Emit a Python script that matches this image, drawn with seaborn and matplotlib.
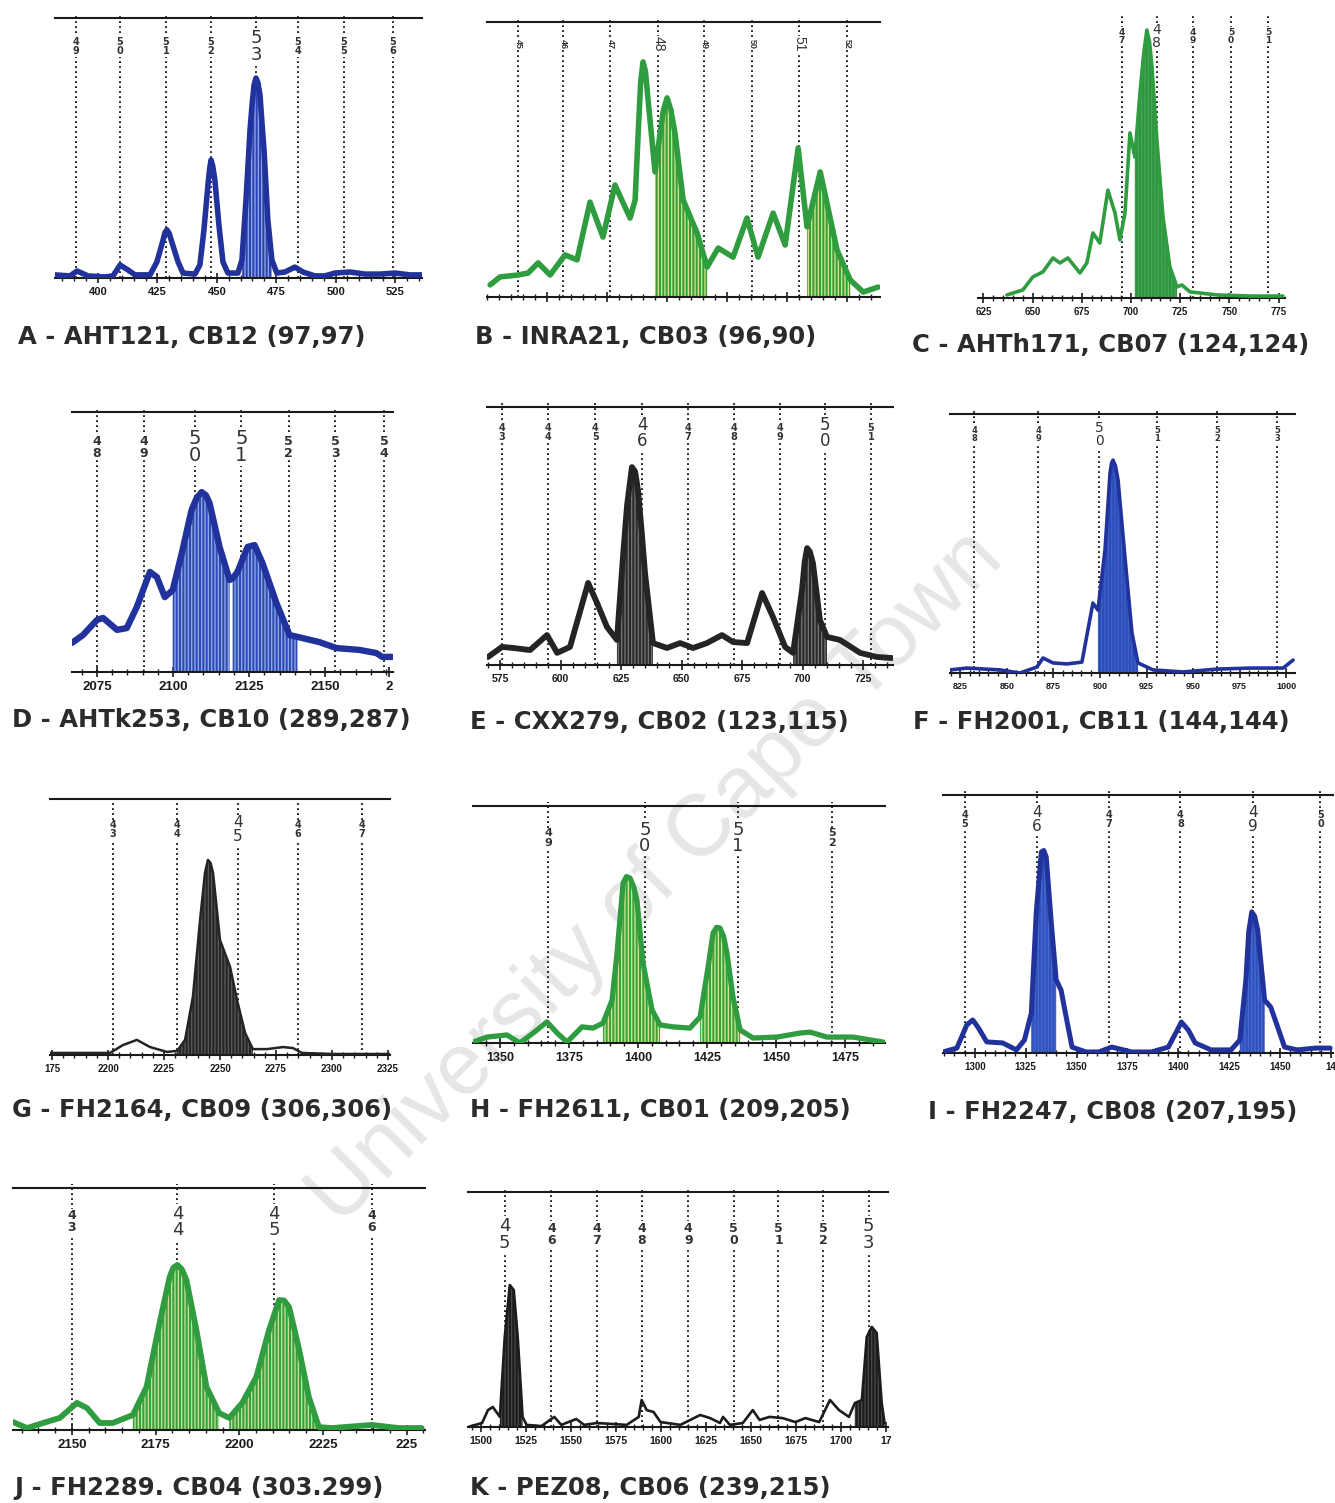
import numpy as np
import pandas as pd
import matplotlib
matplotlib.use("Agg")
import matplotlib.pyplot as plt
from matplotlib.ticker import MultipleLocator
import seaborn as sns

sns.set_style("white")
plt.rcParams['font.family'] = ['Liberation Sans', 'DejaVu Sans']
plt.rcParams['hatch.linewidth'] = 0.9

# ---------------- trace data (x in scan units, y in % of panel height) -------------
a_x = [381.9, 388.2, 391.2, 395.8, 402.9, 406.3, 409.3, 412.6, 415.6, 421.9, 424.8, 427.4, 428.2, 429.0,
       429.9, 431.1, 433.7, 435.8, 440.8, 442.9, 444.6, 446.3, 447.0, 447.6, 448.3, 449.2, 450.9, 452.6,
       454.7, 458.9, 460.6, 462.3, 463.2, 464.0, 464.9, 465.7, 466.5, 467.3, 468.2, 469.0, 469.9, 471.5,
       473.2, 475.3, 478.7, 482.9, 486.3, 491.3, 495.5, 499.7, 506.1, 512.4, 518.7, 525.0, 531.3, 536.4]
a_y = [1.2, 0.8, 2.7, 0.8, 0.4, 0.8, 5.0, 3.1, 1.2, 1.2, 6.2, 14.6, 17.5, 18.5, 17.3, 13.8, 6.2, 1.9,
       1.5, 5.0, 18.5, 35.8, 42.0, 45.4, 43.0, 37.7, 20.4, 6.2, 1.9, 1.9, 6.9, 30.0, 44.0, 56.9, 67.0,
       74.2, 76.9, 75.2, 70.4, 60.0, 49.2, 22.3, 6.9, 1.9, 2.3, 4.2, 2.3, 0.8, 0.8, 1.9, 2.3, 1.5, 1.5,
       1.9, 1.2, 1.2]
a_bins = [390.7, 409.3, 428.6, 447.6, 466.5, 484.2, 503.5, 524.2]
a_bin_labels = ['49', '50', '51', '52', '53', '54', '55', '56']
a_called = ['53']
a_fills = [(460, 474)]
a_ticks = [400, 425, 450, 475, 500, 525]
a_ticklabels = ['400', '425', '450', '475', '500', '525']
a_caption = 'A - AHT121, CB12 (97,97)'

b_x = [301.3, 305.4, 312.9, 317.1, 321.3, 326.3, 332.5, 337.5, 342.9, 348.3, 353.3, 359.6, 361.7, 363.0,
       364.0, 365.0, 366.0, 367.1, 370.0, 372.1, 373.5, 375.0, 376.6, 378.3, 381.7, 387.5, 391.7, 396.3,
       402.5, 408.3, 412.9, 419.2, 424.2, 429.6, 433.3, 438.8, 445.8, 451.3, 456.7, 462.9]
b_y = [4.4, 7.3, 8.0, 8.7, 12.4, 8.0, 15.3, 13.5, 34.5, 21.8, 40.7, 28.7, 35.3, 60.0, 78.0, 85.5, 82.0,
       71.6, 45.5, 59.6, 68.0, 72.4, 68.0, 59.6, 35.3, 23.3, 10.9, 17.8, 14.5, 28.7, 14.5, 30.5, 18.9,
       54.2, 25.5, 45.5, 17.1, 6.2, 1.8, 3.6]
b_bins = [312.9, 331.7, 351.3, 371.3, 390.4, 410.4, 430.0, 450.0]
b_bin_labels = ['45', '46', '47', '48', '49', '50', '51', '52']
b_called = ['48', '51']
b_fills = [(369.5, 392), (433, 451.5)]
b_ticks = [325, 350, 375, 400, 425, 450]
b_ticklabels = ['', '', '', '', '', '']
b_caption = 'B - INRA21, CB03 (96,90)'

c_x = [637.0, 645.1, 650.2, 655.3, 660.4, 663.9, 668.0, 674.1, 677.6, 680.7, 684.2, 688.3, 691.9, 694.4,
       697.0, 699.5, 702.0, 704.6, 706.5, 708.1, 709.5, 710.7, 713.2, 716.3, 719.8, 723.4, 725.9, 730.0,
       735.1, 743.7, 760.5, 777.2]
c_y = [1.1, 2.9, 7.6, 9.4, 14.4, 12.6, 14.4, 9.0, 12.6, 23.4, 19.8, 38.8, 30.6, 20.9, 30.6, 59.4, 50.7,
       73.7, 88.0, 96.4, 92.0, 83.1, 56.8, 29.1, 11.2, 4.0, 4.7, 2.2, 1.8, 1.1, 0.7, 0.7]
c_bins = [695.4, 713.2, 731.5, 750.8, 769.6]
c_bin_labels = ['47', '48', '49', '50', '51']
c_called = ['48']
c_fills = [(701.5, 724)]
c_ticks = [625, 650, 675, 700, 725, 750, 775]
c_ticklabels = ['625', '650', '675', '700', '725', '750', '775']
c_caption = 'C - AHTh171, CB07 (124,124)'

d_x = [2066.8, 2070.4, 2075.0, 2077.0, 2081.6, 2084.8, 2088.1, 2092.4, 2094.7, 2097.3, 2099.9, 2102.9,
       2106.1, 2107.8, 2109.4, 2110.8, 2112.0, 2115.3, 2118.6, 2119.6, 2121.2, 2124.5, 2126.8, 2129.4,
       2134.0, 2138.3, 2140.9, 2148.1, 2153.7, 2161.2, 2166.8, 2168.8, 2172.0]
d_y = [11.2, 14.2, 20.0, 20.8, 16.2, 16.9, 25.0, 38.5, 36.5, 28.8, 31.5, 45.8, 62.3, 67.0, 69.2, 68.0,
       65.0, 48.1, 35.4, 36.0, 38.5, 48.1, 48.8, 41.9, 26.5, 14.2, 13.5, 11.5, 9.2, 8.5, 7.3, 5.8, 5.8]
d_bins = [2075.0, 2090.4, 2107.1, 2122.5, 2138.0, 2153.4, 2169.4]
d_bin_labels = ['48', '49', '50', '51', '52', '53', '54']
d_called = ['50', '51']
d_fills = [(2099, 2118.8), (2119.4, 2141.5)]
d_ticks = [2075, 2100, 2125, 2150, 2171]
d_ticklabels = ['2075', '2100', '2125', '2150', '2']
d_caption = 'D - AHTk253, CB10 (289,287)'

e_x = [570.0, 575.8, 580.4, 587.4, 594.4, 598.6, 603.9, 611.4, 615.1, 619.2, 623.3, 625.8, 627.5, 629.5,
       630.8, 632.0, 633.5, 634.9, 638.2, 644.0, 649.4, 654.8, 660.5, 666.7, 671.3, 677.1, 683.3, 687.8,
       692.8, 696.1, 699.8, 700.9, 701.9, 703.0, 704.3, 707.2, 710.1, 715.5, 723.8, 730.8, 737.0]
e_y = [3.1, 7.0, 6.6, 5.8, 11.6, 4.7, 7.0, 31.8, 24.0, 14.7, 9.7, 41.9, 62.0, 76.7, 75.0, 67.8, 52.0,
       35.7, 8.5, 6.6, 8.5, 6.6, 8.5, 11.6, 8.9, 8.5, 27.9, 18.6, 7.0, 4.7, 29.1, 40.0, 45.3, 44.0, 39.5,
       17.4, 10.9, 9.7, 4.7, 3.1, 2.7]
e_bins = [575.8, 594.8, 614.3, 633.7, 652.7, 671.7, 690.7, 709.3, 728.3]
e_bin_labels = ['43', '44', '45', '46', '47', '48', '49', '50', '51']
e_called = ['46', '50']
e_fills = [(622, 638.5), (694.5, 710.5)]
e_ticks = [575, 600, 625, 650, 675, 700, 725]
e_ticklabels = ['575', '600', '625', '650', '675', '700', '725']
e_caption = 'E - CXX279, CB02 (123,115)'

f_x = [819.4, 828.5, 846.2, 857.0, 866.1, 869.4, 874.7, 882.3, 890.3, 893.5, 896.2, 898.9, 902.7, 905.4,
       906.2, 907.0, 908.3, 909.7, 913.4, 917.2, 920.4, 928.5, 944.6, 962.9, 980.6, 998.4, 1003.8]
f_y = [1.2, 1.9, 1.2, 0.0, 2.3, 5.8, 3.9, 3.5, 4.2, 16.6, 27.0, 24.3, 47.5, 77.2, 81.0, 82.2, 80.0, 74.5,
       44.8, 15.4, 3.9, 1.2, 0.4, 1.5, 1.9, 1.9, 5.0]
f_bins = [832.3, 866.7, 899.5, 930.6, 962.9, 995.2]
f_bin_labels = ['48', '49', '50', '51', '52', '53']
f_called = ['50']
f_fills = [(898.5, 921)]
f_ticks = [825, 850, 875, 900, 925, 950, 975, 1000]
f_ticklabels = ['825', '850', '875', '900', '925', '950', '975', '1000']
f_caption = 'F - FH2001, CB11 (144,144)'

g_x = [2174.1, 2200.9, 2206.7, 2212.9, 2218.8, 2226.3, 2230.8, 2234.4, 2237.9, 2241.1, 2243.3, 2244.6,
       2245.8, 2246.9, 2250.0, 2254.5, 2257.6, 2261.2, 2264.7, 2271.0, 2278.1, 2282.6, 2286.6, 2300.4,
       2325.9]
g_y = [0.8, 0.8, 3.9, 5.9, 3.1, 1.2, 1.6, 5.9, 22.7, 52.7, 71.1, 76.2, 75.0, 71.1, 44.9, 34.4, 21.5, 8.6,
       2.3, 2.3, 3.1, 2.7, 0.8, 0.4, 0.4]
g_bins = [2202.2, 2230.8, 2258.0, 2284.8, 2313.4]
g_bin_labels = ['43', '44', '45', '46', '47']
g_called = ['45']
g_fills = [(2230, 2265)]
g_ticks = [2175, 2200, 2225, 2250, 2275, 2300, 2325]
g_ticklabels = ['175', '2200', '2225', '2250', '2275', '2300', '2325']
g_caption = 'G - FH2164, CB09 (306,306)'

h_x = [1340.2, 1345.3, 1352.5, 1357.2, 1362.0, 1367.0, 1370.7, 1374.3, 1379.7, 1383.7, 1387.3, 1390.6,
       1392.4, 1394.6, 1395.8, 1397.1, 1398.4, 1399.6, 1401.8, 1405.1, 1408.0, 1412.7, 1418.8, 1422.5,
       1425.4, 1427.2, 1428.5, 1429.7, 1431.0, 1432.2, 1434.4, 1437.0, 1441.7, 1450.4, 1458.7, 1462.3,
       1468.5, 1477.9, 1488.8]
h_y = [0.4, 2.5, 3.4, 0.0, 4.2, 8.9, 4.2, 0.4, 6.8, 6.3, 8.4, 18.1, 38.0, 67.5, 70.2, 69.6, 66.0, 60.3,
       33.8, 13.9, 7.6, 6.8, 6.3, 11.0, 32.1, 46.4, 48.8, 48.5, 45.0, 38.0, 19.4, 5.5, 2.1, 2.5, 4.2, 4.6,
       2.5, 2.5, 0.4]
h_bins = [1367.4, 1402.5, 1436.2, 1470.3]
h_bin_labels = ['49', '50', '51', '52']
h_called = ['50', '51']
h_fills = [(1385, 1408.5), (1421, 1437.5)]
h_ticks = [1350, 1375, 1400, 1425, 1450, 1475]
h_ticklabels = ['1350', '1375', '1400', '1425', '1450', '1475']
h_caption = 'H - FH2611, CB01 (209,205)'

i_x = [1284.4, 1291.2, 1296.1, 1299.0, 1301.5, 1305.9, 1313.7, 1320.5, 1324.4, 1327.8, 1330.2, 1332.7,
       1333.9, 1335.1, 1337.6, 1340.0, 1342.4, 1344.9, 1347.8, 1354.6, 1361.0, 1367.3, 1377.1, 1386.8,
       1395.1, 1399.0, 1401.5, 1404.9, 1408.3, 1416.1, 1425.9, 1430.2, 1433.2, 1434.6, 1436.1, 1437.5,
       1439.0, 1442.4, 1445.4, 1448.8, 1452.2, 1458.5, 1467.3, 1474.6]
i_y = [0.4, 1.9, 10.9, 12.8, 10.1, 4.3, 3.9, 1.2, 5.0, 15.5, 54.3, 77.9, 78.5, 76.0, 50.4, 28.3, 24.4,
       14.0, 2.3, 0.4, 0.4, 2.3, 0.4, 0.4, 2.3, 8.1, 12.0, 8.9, 3.9, 1.2, 1.2, 5.0, 28.3, 47.0, 54.7, 53.0,
       47.7, 20.5, 17.8, 10.1, 2.3, 1.2, 1.9, 1.9]
i_bins = [1295.1, 1330.7, 1365.9, 1401.0, 1436.6, 1469.8]
i_bin_labels = ['45', '46', '47', '48', '49', '50']
i_called = ['46', '49']
i_fills = [(1327, 1340.5), (1430, 1442.5)]
i_ticks = [1300, 1325, 1350, 1375, 1400, 1425, 1450, 1475]
i_ticklabels = ['1300', '1325', '1350', '1375', '1400', '1425', '1450', '14']
i_caption = 'I - FH2247, CB08 (207,195)'

j_x = [2132.4, 2136.6, 2141.4, 2146.4, 2151.5, 2154.5, 2158.3, 2162.2, 2168.2, 2172.3, 2176.2, 2179.2,
       2180.3, 2181.5, 2182.8, 2184.2, 2187.2, 2190.2, 2194.0, 2197.0, 2200.9, 2205.1, 2208.9, 2211.9,
       2213.4, 2214.9, 2217.9, 2220.8, 2223.8, 2227.7, 2239.6, 2247.6, 2254.5]
j_y = [3.3, 0.8, 2.9, 5.0, 11.2, 9.1, 2.9, 2.9, 6.2, 17.8, 44.2, 63.2, 67.0, 68.2, 66.5, 62.0, 41.3, 17.8,
       7.0, 5.0, 11.2, 21.9, 41.3, 53.7, 53.5, 50.8, 33.1, 13.6, 1.2, 0.8, 2.1, 0.8, 0.8]
j_bins = [2150.0, 2181.5, 2210.4, 2239.6]
j_bin_labels = ['43', '44', '45', '46']
j_called = ['44', '45']
j_fills = [(2168, 2194.5), (2196.5, 2224)]
j_ticks = [2150, 2175, 2200, 2225, 2250]
j_ticklabels = ['2150', '2175', '2200', '2225', '225']
j_caption = 'J - FH2289. CB04 (303.299)'

k_x = [1492.8, 1500.6, 1503.9, 1506.6, 1510.5, 1513.2, 1516.0, 1518.2, 1520.4, 1523.1, 1525.3, 1533.6,
       1540.7, 1544.6, 1552.9, 1557.3, 1564.4, 1580.9, 1587.6, 1589.2, 1592.0, 1595.8, 1599.7, 1610.7,
       1621.7, 1627.2, 1632.7, 1634.4, 1638.2, 1645.4, 1650.9, 1654.7, 1660.2, 1667.4, 1674.6, 1680.1,
       1687.8, 1693.8, 1698.8, 1704.3, 1707.6, 1711.5, 1714.2, 1717.0, 1719.7, 1722.5, 1724.1]
k_y = [0.0, 1.7, 7.2, 8.5, 4.3, 38.3, 60.4, 58.3, 38.3, 4.3, 0.9, 0.4, 4.3, 0.9, 3.4, 0.9, 1.7, 0.9, 4.3,
       11.5, 7.2, 6.4, 2.1, 0.9, 5.1, 3.8, 1.7, 4.3, 0.9, 1.7, 7.2, 3.0, 4.3, 3.8, 2.1, 3.8, 2.1, 11.5,
       7.2, 4.3, 10.2, 11.5, 38.3, 42.6, 40.0, 10.2, 1.7]
k_bins = [1513.2, 1539.1, 1564.4, 1589.2, 1615.1, 1640.4, 1665.2, 1690.0, 1715.3]
k_bin_labels = ['45', '46', '47', '48', '49', '50', '51', '52', '53']
k_called = ['45', '53']
k_fills = [(1510, 1523.5), (1707, 1724.5)]
k_ticks = [1500, 1525, 1550, 1575, 1600, 1625, 1650, 1675, 1700, 1725]
k_ticklabels = ['1500', '1525', '1550', '1575', '1600', '1625', '1650', '1675', '1700', '17']
k_caption = 'K - PEZ08, CB06 (239,215)'

panels = [
    dict(x=a_x, y=a_y, bins=a_bins, labels=a_bin_labels, called=a_called, fills=a_fills,
         ticks=a_ticks, ticklabels=a_ticklabels, caption=a_caption),
    dict(x=b_x, y=b_y, bins=b_bins, labels=b_bin_labels, called=b_called, fills=b_fills,
         ticks=b_ticks, ticklabels=b_ticklabels, caption=b_caption),
    dict(x=c_x, y=c_y, bins=c_bins, labels=c_bin_labels, called=c_called, fills=c_fills,
         ticks=c_ticks, ticklabels=c_ticklabels, caption=c_caption),
    dict(x=d_x, y=d_y, bins=d_bins, labels=d_bin_labels, called=d_called, fills=d_fills,
         ticks=d_ticks, ticklabels=d_ticklabels, caption=d_caption),
    dict(x=e_x, y=e_y, bins=e_bins, labels=e_bin_labels, called=e_called, fills=e_fills,
         ticks=e_ticks, ticklabels=e_ticklabels, caption=e_caption),
    dict(x=f_x, y=f_y, bins=f_bins, labels=f_bin_labels, called=f_called, fills=f_fills,
         ticks=f_ticks, ticklabels=f_ticklabels, caption=f_caption),
    dict(x=g_x, y=g_y, bins=g_bins, labels=g_bin_labels, called=g_called, fills=g_fills,
         ticks=g_ticks, ticklabels=g_ticklabels, caption=g_caption),
    dict(x=h_x, y=h_y, bins=h_bins, labels=h_bin_labels, called=h_called, fills=h_fills,
         ticks=h_ticks, ticklabels=h_ticklabels, caption=h_caption),
    dict(x=i_x, y=i_y, bins=i_bins, labels=i_bin_labels, called=i_called, fills=i_fills,
         ticks=i_ticks, ticklabels=i_ticklabels, caption=i_caption),
    dict(x=j_x, y=j_y, bins=j_bins, labels=j_bin_labels, called=j_called, fills=j_fills,
         ticks=j_ticks, ticklabels=j_ticklabels, caption=j_caption),
    dict(x=k_x, y=k_y, bins=k_bins, labels=k_bin_labels, called=k_called, fills=k_fills,
         ticks=k_ticks, ticklabels=k_ticklabels, caption=k_caption),
]

# ---------------- layout / styling (pixel boxes: left, right, top, baseline) -------
BLUE, GREEN, DARK = '#22329c', '#2f9c40', '#242424'
styles = [
    dict(box=(55, 422, 18, 278), xlim=(381.9, 536.4), color=BLUE, fill='#2c44b0', hatch='#93abeb',
         lw=4.0, lab_y=89, small=7, big=13, tfs=8, top=True, cap=(18, 337), rot=False),
    dict(box=(487, 880, 22, 297), xlim=(300.0, 463.7), color=GREEN, fill='#3a9e3a', hatch='#d2ea8e',
         lw=4.0, lab_y=92, small=6.5, big=10, tfs=7, top=True, cap=(475, 337), rot=True),
    dict(box=(978, 1285, 20, 298), xlim=(622.3, 778.3), color=GREEN, fill='#2b923e', hatch='#4aa85a',
         lw=2.6, lab_y=94, small=6.5, big=10, tfs=7, top=False, cap=(912, 345), rot=False),
    dict(box=(72, 393, 412, 672), xlim=(2066.8, 2172.3), color=BLUE, fill='#2f4cb4', hatch='#93acea',
         lw=4.6, lab_y=86.5, small=9, big=14, tfs=9.5, top=True, cap=(12, 720), rot=False),
    dict(box=(487, 893, 407, 665), xlim=(569.6, 737.4), color=DARK, fill='#2a2a2a', hatch='#777777',
         lw=4.2, lab_y=90, small=7, big=12, tfs=7.5, top=True, cap=(470, 722), rot=False),
    dict(box=(950, 1295, 414, 673), xlim=(819.4, 1004.8), color=BLUE, fill='#2a4cb6', hatch='#4062c8',
         lw=2.6, lab_y=92, small=6, big=10, tfs=6.5, top=True, cap=(913, 722), rot=False),
    dict(box=(50, 390, 799, 1055), xlim=(2174.1, 2325.9), color=DARK, fill='#262626', hatch='#5a5a5a',
         lw=1.8, lab_y=88, small=7, big=11, tfs=7, top=True, cap=(12, 1110), rot=False),
    dict(box=(473, 885, 806, 1043), xlim=(1340.2, 1489.5), color=GREEN, fill='#3da23c', hatch='#d4ec98',
         lw=3.8, lab_y=86.5, small=8, big=13, tfs=9, top=True, cap=(470, 1110), rot=False),
    dict(box=(943, 1333, 795, 1053), xlim=(1284.4, 1476.0), color=BLUE, fill='#2d50ba', hatch='#4a6cd0',
         lw=3.6, lab_y=90.5, small=7, big=11, tfs=7, top=True, cap=(928, 1112), rot=False),
    dict(box=(13, 425, 1188, 1430), xlim=(2132.4, 2255.5), color=GREEN, fill='#3a9e3e', hatch='#c8e89c',
         lw=4.2, lab_y=86, small=9, big=13, tfs=9.5, top=True, cap=(14, 1488), rot=False),
    dict(box=(468, 888, 1192, 1427), xlim=(1492.8, 1726.0), color='#1c1c1c', fill='#1c1c1c',
         hatch='#4a4a4a', lw=1.9, lab_y=82, small=9, big=13, tfs=7.5, top=True, cap=(470, 1488), rot=False),
]

W, H = 1335, 1503
fig = plt.figure(figsize=(W / 100, H / 100), dpi=100)
fig.patch.set_facecolor('white')

# repository watermark, behind the panels
fig.text(0.492, 0.416, 'University of Cape Town', rotation=45, fontsize=63,
         family=['Liberation Sans', 'DejaVu Sans'], color='#e6e6e6', ha='center', va='center',
         zorder=-5)

for p, s in zip(panels, styles):
    l, r, t, b = s['box']
    ax = fig.add_axes([l / W, 1 - b / H, (r - l) / W, (b - t) / H])
    ax.set_facecolor('none')
    df = pd.DataFrame({'x': p['x'], 'y': p['y']})

    # shaded allele peaks
    for lo, hi in p['fills']:
        m = (df['x'] >= lo) & (df['x'] <= hi)
        ax.fill_between(df['x'][m], 0, df['y'][m], facecolor=s['fill'], edgecolor=s['hatch'],
                        hatch='|||||', linewidth=0, zorder=2)

    sns.lineplot(data=df, x='x', y='y', ax=ax, color=s['color'], lw=s['lw'], sort=False,
                 estimator=None, zorder=3, solid_joinstyle='round', solid_capstyle='round')

    # allele bins
    for bx, lab in zip(p['bins'], p['labels']):
        ax.plot([bx, bx], [0, 101.5], color='black', lw=1.2, ls=(0, (1.1, 1.9)), zorder=1,
                clip_on=False)
        big = lab in p['called']
        if s['rot']:
            ax.text(bx, s['lab_y'], lab, rotation=270, ha='center', va='center',
                    fontsize=s['big'] if big else s['small'],
                    fontweight='normal' if big else 'bold', color='#333333', zorder=2.5,
                    bbox=dict(fc='white', ec='none', pad=0.4))
        else:
            ax.text(bx, s['lab_y'], lab[0] + '\n' + lab[1], ha='center', va='center',
                    fontsize=s['big'] if big else s['small'], linespacing=0.9,
                    family=['DejaVu Sans'], fontweight='normal' if big else 'bold',
                    color='#333333', zorder=2.5, bbox=dict(fc='white', ec='none', pad=0.4))

    ax.set_xlim(*s['xlim'])
    ax.set_ylim(0, 100)
    ax.set_xticks(p['ticks'])
    ax.set_xticklabels(p['ticklabels'])
    ax.xaxis.set_minor_locator(MultipleLocator(5))
    ax.tick_params(axis='x', which='major', direction='inout', length=7, width=1.2,
                   labelsize=s['tfs'], pad=3, colors='#1a1a1a', bottom=True)
    ax.tick_params(axis='x', which='minor', direction='inout', length=5, width=1.0,
                   bottom=True, colors='#1a1a1a')
    for lbl in ax.get_xticklabels():
        lbl.set_fontweight('bold')
    ax.set_yticks([])
    ax.set_xlabel('')
    ax.set_ylabel('')
    ax.spines['left'].set_visible(False)
    ax.spines['right'].set_visible(False)
    ax.spines['bottom'].set_linewidth(1.5)
    ax.spines['bottom'].set_color('#1a1a1a')
    ax.spines['top'].set_visible(s['top'])
    ax.spines['top'].set_linewidth(1.5)
    ax.spines['top'].set_color('#1a1a1a')

    cx, cy = s['cap']
    fig.text(cx / W, 1 - cy / H, p['caption'], fontsize=17.5, fontweight='bold',
             family=['DejaVu Sans'], color='#2b2b2b', ha='left', va='center')

fig.savefig('out.png', dpi=100, facecolor='white')
